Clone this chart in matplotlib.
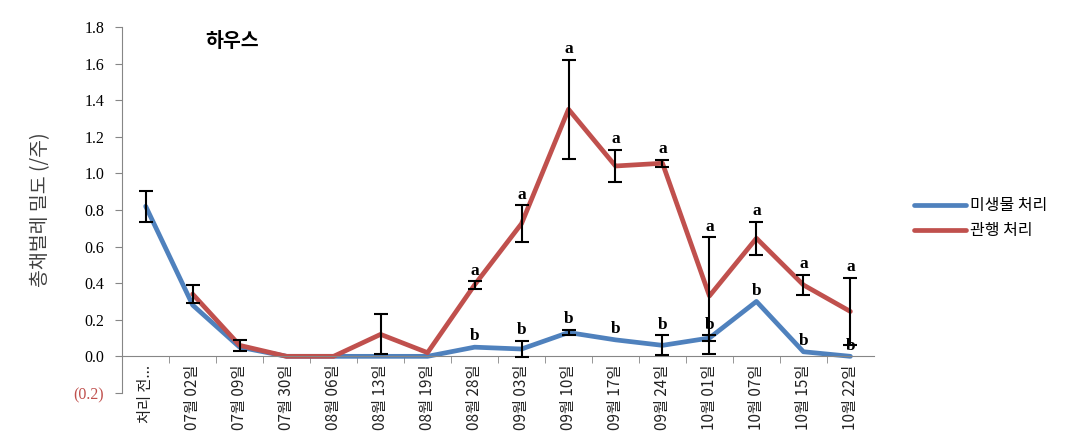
import numpy as np
import matplotlib
matplotlib.use("Agg")
from matplotlib import pyplot as plt

plt.rcParams['font.family'] = ['Noto Sans CJK KR', 'DejaVu Sans']

# data
dates = ["처리 전...", "07월 02일", "07월 09일", "07월 30일", "08월 06일", "08월 13일",
         "08월 19일", "08월 28일", "09월 03일", "09월 10일", "09월 17일", "09월 24일",
         "10월 01일", "10월 07일", "10월 15일", "10월 22일"]
microbe = [0.82, 0.28, 0.05, 0.0, 0.0, 0.0, 0.0, 0.05, 0.04, 0.13, 0.09, 0.06, 0.10, 0.30, 0.025, 0.0]
microbe_err = [0.085, 0, 0, 0, 0, 0, 0, 0, 0.045, 0.015, 0, 0.055, 0.015, 0, 0, 0]
conventional = [np.nan, 0.34, 0.06, 0.0, 0.0, 0.12, 0.02, 0.39, 0.725, 1.35, 1.04, 1.055, 0.33, 0.645, 0.39, 0.245]
conventional_err = [0, 0.05, 0.03, 0, 0, 0.11, 0, 0.02, 0.10, 0.27, 0.09, 0.02, 0.32, 0.09, 0.055, 0.185]
letters_a = ["", "", "", "", "", "", "", "a", "a", "a", "a", "a", "a", "a", "a", "a"]
letters_b = ["", "", "", "", "", "", "", "b", "b", "b", "b", "b", "b", "b", "b", "b"]

blue = "#4F81BD"
red = "#C0504D"

fig = plt.figure(figsize=(10.91, 4.41), dpi=100)
ax = fig.add_axes([0.112, 0.109, 0.689, 0.830])

# spine position first, it resets tick settings
ax.spines['top'].set_visible(False)
ax.spines['right'].set_visible(False)
ax.spines['left'].set_color("#868686")
ax.spines['bottom'].set_color("#868686")
ax.spines['bottom'].set_position(('data', 0))

x = np.arange(len(dates))
ax.plot(x, microbe, color=blue, lw=3.4, solid_capstyle='round', solid_joinstyle='round', label="미생물 처리")
ax.plot(x, conventional, color=red, lw=3.4, solid_capstyle='round', solid_joinstyle='round', label="관행 처리")

m = np.array(microbe)
me = np.array(microbe_err)
c = np.array(conventional)
ce = np.array(conventional_err)
sel = me > 0
ax.errorbar(x[sel], m[sel], yerr=me[sel], fmt='none', ecolor='black', elinewidth=1.5, capsize=5, capthick=1.5, zorder=4)
sel = ce > 0
ax.errorbar(x[sel], c[sel], yerr=ce[sel], fmt='none', ecolor='black', elinewidth=1.5, capsize=5, capthick=1.5, zorder=4)

for i in range(len(dates)):
    if letters_a[i]:
        ax.text(x[i], c[i] + ce[i] + 0.015, letters_a[i], ha='center', va='bottom',
                family='Liberation Serif', fontweight='bold', fontsize=12.5)
    if letters_b[i]:
        ax.text(x[i], m[i] + me[i] + 0.015, letters_b[i], ha='center', va='bottom',
                family='Liberation Serif', fontweight='bold', fontsize=12.5)

ax.set_xlim(-0.5, len(dates) - 0.5)
ax.set_ylim(-0.2, 1.8)
ax.set_yticks(np.arange(-0.2, 1.81, 0.2))
ylabels = ["(0.2)"] + ["%.1f" % v for v in np.arange(0.0, 1.81, 0.2)]
ax.set_yticklabels(ylabels, family='Liberation Serif', fontsize=11.5)
ax.get_yticklabels()[0].set_color("#C0504D")

ax.set_xticks(x)
ax.set_xticklabels(dates, rotation=90, fontsize=11, color="#222222")
ax.set_xticks(np.arange(0.5, len(dates) - 0.5, 1), minor=True)
ax.tick_params(axis='x', which='major', length=0, pad=6)
ax.tick_params(axis='x', which='minor', length=5, color="#868686")
ax.tick_params(axis='y', length=5, color="#868686", pad=8)

ax.set_ylabel("총채벌레 밀도 (/주)", fontsize=14, color="#404040", labelpad=16)
ax.text(0.146, 0.985, "하우스", transform=ax.transAxes, ha='center', va='top',
        fontsize=14, fontweight='bold')

fig.legend(loc='center left', bbox_to_anchor=(0.825, 0.505), frameon=False,
           fontsize=11.5, handlelength=3.2, labelspacing=0.5, handletextpad=0.3)

fig.savefig("out.png", dpi=100)
